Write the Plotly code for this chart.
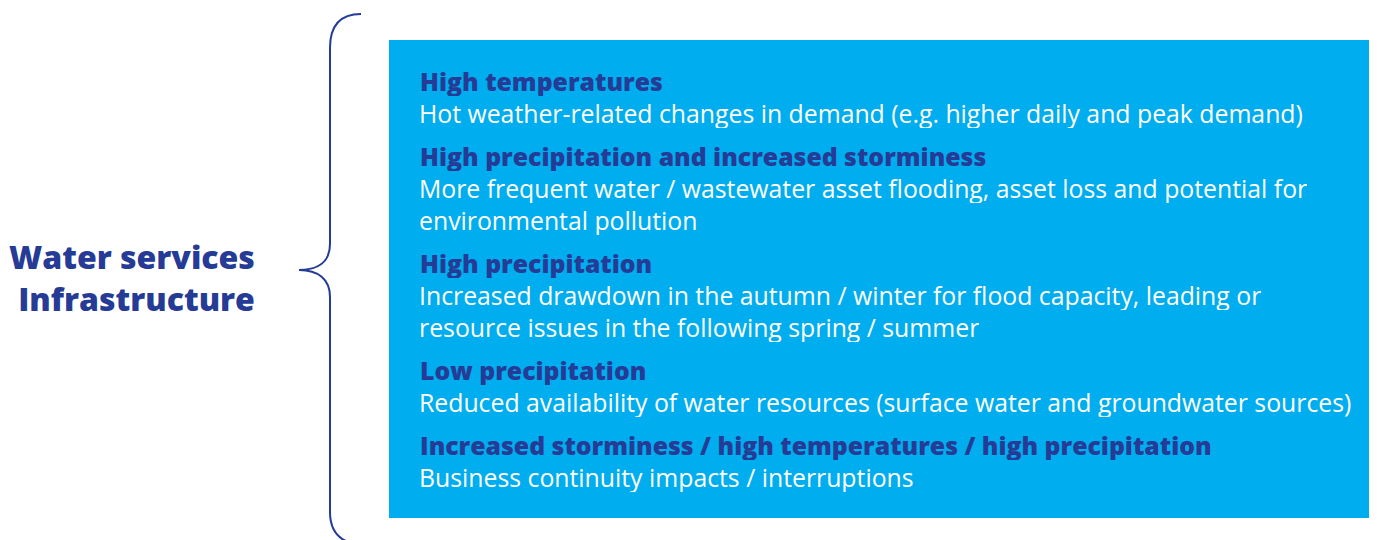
import plotly.graph_objects as go

# --- content ---
title_lines = ["Water services", "Infrastructure"]

headings = [
    "High temperatures",
    "High precipitation and increased storminess",
    "High precipitation",
    "Low precipitation",
    "Increased storminess / high temperatures / high precipitation",
]

descriptions = [
    ["Hot weather-related changes in demand (e.g. higher daily and peak demand)"],
    ["More frequent water / wastewater asset flooding, asset loss and potential for",
     "environmental pollution"],
    ["Increased drawdown in the autumn / winter for flood capacity, leading or",
     "resource issues in the following spring / summer"],
    ["Reduced availability of water resources (surface water and groundwater sources)"],
    ["Business continuity impacts / interruptions"],
]

NAVY = "#253b96"
BLUE = "#00adee"
FONT = "Open Sans"

W, H = 1377, 540
fig = go.Figure()

# blue panel
fig.add_shape(type="rect", x0=389, x1=1369, y0=40, y1=518,
              fillcolor=BLUE, line=dict(width=0), layer="below")

# curly brace
brace = ("M 361,14 C 342,14 330,24 330,48 L 330,244 "
         "C 330,262 318,270 299,270 C 318,270 330,279 330,297 "
         "L 330,512 C 330,530 338,538 348,542")
fig.add_shape(type="path", path=brace, line=dict(color=NAVY, width=2))

# left title, one block, right-aligned
fig.add_annotation(x=257, y=277, text="<br>".join(title_lines), showarrow=False,
                   xanchor="right", yanchor="middle", align="right",
                   font=dict(family=FONT, size=32, weight=800, color=NAVY))

# right column text
y = 81
line_gap = 32
for head, desc in zip(headings, descriptions):
    fig.add_annotation(x=419, y=y, text=head, showarrow=False,
                       xanchor="left", yanchor="middle", height=30, borderpad=0,
                       font=dict(family=FONT, size=24.8, weight=800, color=NAVY))
    y += line_gap
    for line in desc:
        fig.add_annotation(x=418, y=y, text=line, showarrow=False,
                           xanchor="left", yanchor="middle", height=30, borderpad=0,
                           font=dict(family=FONT, size=24.8, color="white"))
        y += line_gap
    y += 11

fig.update_xaxes(range=[0, W], visible=False, fixedrange=True)
fig.update_yaxes(range=[H, 0], visible=False, fixedrange=True)
fig.update_layout(width=W, height=H, margin=dict(l=0, r=0, t=0, b=0),
                  plot_bgcolor="white", paper_bgcolor="white", showlegend=False)

fig.write_html("out.html", config={"displayModeBar": False},
               post_script="document.body.style.margin='0';")
